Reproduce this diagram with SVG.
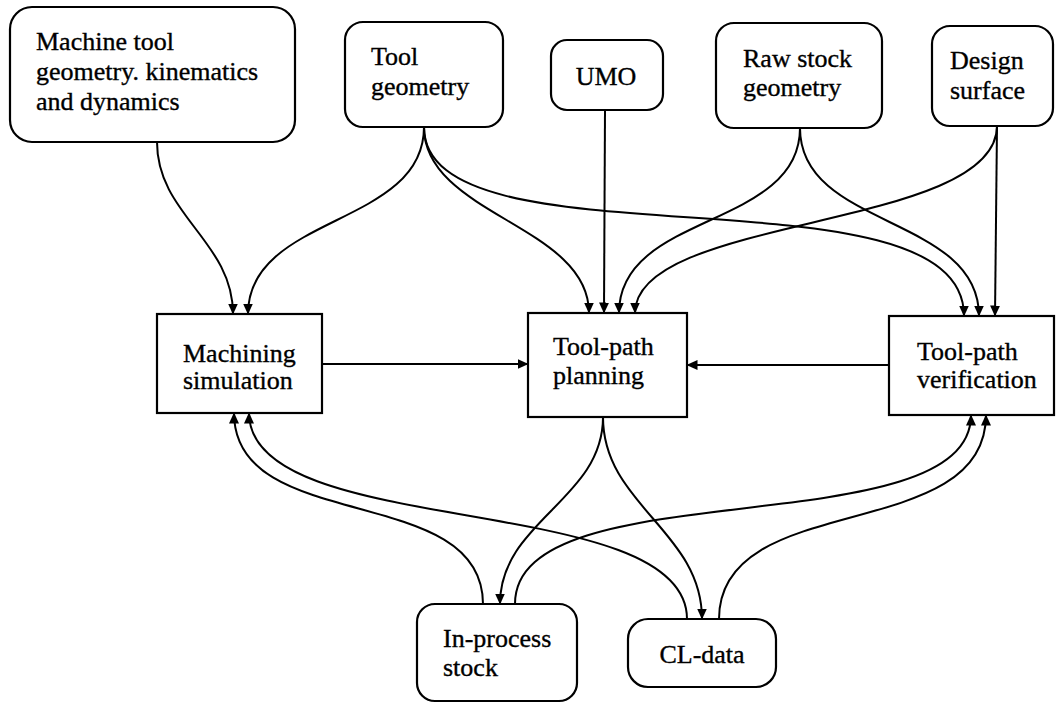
<svg xmlns="http://www.w3.org/2000/svg" width="1063" height="704" viewBox="0 0 1063 704">
  <style>
    .box { fill: #ffffff; stroke: #000000; stroke-width: 2.2; }
    .lbl { font-family: "Liberation Serif", "DejaVu Serif", serif; font-size: 26px; fill: #000000; stroke: #000000; stroke-width: 0.35; }
    .mid { text-anchor: middle; }
    .edge { fill: none; stroke: #000000; stroke-width: 2; }
  </style>
  <defs>
    <marker id="ah" markerUnits="userSpaceOnUse" viewBox="0 0 11 10" markerWidth="11" markerHeight="10" refX="10.5" refY="5" orient="auto">
      <path d="M0,0 L11,5 L0,10 Z" fill="#000000"/>
    </marker>
  </defs>

  <rect width="1063" height="704" fill="#ffffff"/>

  <!-- connectors -->
  <g id="connectors" class="edges">
    <!-- sources into machining simulation -->
    <path class="edge" d="M157,142 C157,215 233,241 233,314" marker-end="url(#ah)"/>
    <path class="edge" d="M424,127 C424,227 248,214 248,314" marker-end="url(#ah)"/>
    <!-- sources into tool-path planning -->
    <path class="edge" d="M424,127 C424,215 589,225 589,313" marker-end="url(#ah)"/>
    <path class="edge" d="M605,110 L604,313" marker-end="url(#ah)"/>
    <path class="edge" d="M800,128 C800,229 619,212 619,313" marker-end="url(#ah)"/>
    <path class="edge" d="M997,126 C997,230 635,215 635,313" marker-end="url(#ah)"/>
    <!-- sources into tool-path verification -->
    <path class="edge" d="M424,127 C424,274 964,159 964,316" marker-end="url(#ah)"/>
    <path class="edge" d="M800,128 C800,229 979,215 979,316" marker-end="url(#ah)"/>
    <path class="edge" d="M997,126 L995,316" marker-end="url(#ah)"/>
    <!-- horizontal links into planning -->
    <path class="edge" d="M322,364 L528,364" marker-end="url(#ah)"/>
    <path class="edge" d="M889,365 L687,365" marker-end="url(#ah)"/>
    <!-- planning outputs -->
    <path class="edge" d="M603,417 C603,500 500,521 500,604" marker-end="url(#ah)"/>
    <path class="edge" d="M603,417 C603,505 702,531 702,619" marker-end="url(#ah)"/>
    <!-- feedback to machining simulation -->
    <path class="edge" d="M483,604 C483,481 234,536 234,413" marker-end="url(#ah)"/>
    <path class="edge" d="M687,619 C687,489 249,542 249,413" marker-end="url(#ah)"/>
    <!-- feedback to verification -->
    <path class="edge" d="M515,604 C515,468 971,548 971,415" marker-end="url(#ah)"/>
    <path class="edge" d="M719,619 C719,488 986,546 986,415" marker-end="url(#ah)"/>
  </g>

  <!-- input nodes -->
  <g id="machine-tool">
    <rect class="box" x="10" y="7" width="285" height="135" rx="22"/>
    <text class="lbl" x="36" y="50">Machine tool</text>
    <text class="lbl" x="36" y="80">geometry. kinematics</text>
    <text class="lbl" x="36" y="110">and dynamics</text>
  </g>
  <g id="tool-geometry">
    <rect class="box" x="345" y="22" width="158" height="105" rx="18"/>
    <text class="lbl" x="371" y="65">Tool</text>
    <text class="lbl" x="371" y="95">geometry</text>
  </g>
  <g id="umo">
    <rect class="box" x="551" y="40" width="112" height="70" rx="16"/>
    <text class="lbl mid" x="606" y="85">UMO</text>
  </g>
  <g id="raw-stock">
    <rect class="box" x="716" y="23" width="166" height="105" rx="18"/>
    <text class="lbl" x="743" y="67">Raw stock</text>
    <text class="lbl" x="743" y="96">geometry</text>
  </g>
  <g id="design-surface">
    <rect class="box" x="932" y="26" width="121" height="100" rx="18"/>
    <text class="lbl" x="950" y="69">Design</text>
    <text class="lbl" x="950" y="99">surface</text>
  </g>

  <!-- process nodes -->
  <g id="machining-simulation">
    <rect class="box" x="157" y="314" width="165" height="99"/>
    <text class="lbl" x="183" y="362">Machining</text>
    <text class="lbl" x="183" y="389">simulation</text>
  </g>
  <g id="tool-path-planning">
    <rect class="box" x="528" y="313" width="159" height="104"/>
    <text class="lbl" x="553" y="355">Tool-path</text>
    <text class="lbl" x="553" y="384">planning</text>
  </g>
  <g id="tool-path-verification">
    <rect class="box" x="889" y="316" width="165" height="99"/>
    <text class="lbl" x="917" y="360">Tool-path</text>
    <text class="lbl" x="917" y="388">verification</text>
  </g>

  <!-- output nodes -->
  <g id="in-process-stock">
    <rect class="box" x="417" y="604" width="160" height="97" rx="18"/>
    <text class="lbl" x="443" y="647">In-process</text>
    <text class="lbl" x="443" y="676">stock</text>
  </g>
  <g id="cl-data">
    <rect class="box" x="628" y="619" width="148" height="68" rx="20"/>
    <text class="lbl mid" x="702" y="663">CL-data</text>
  </g>
</svg>
